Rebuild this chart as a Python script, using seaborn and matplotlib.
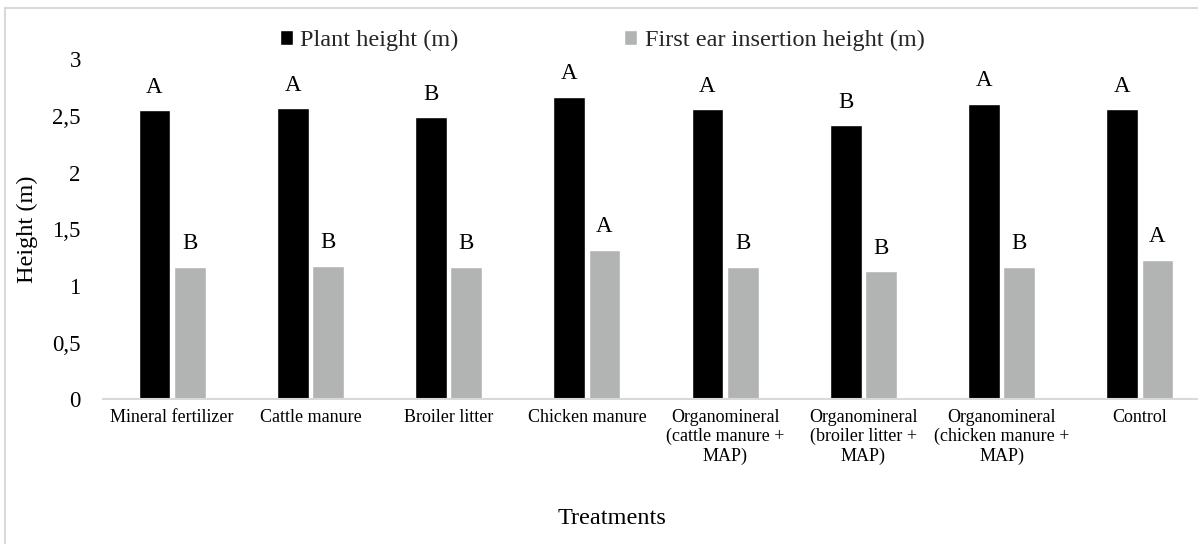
import matplotlib
matplotlib.use("Agg")
import matplotlib.pyplot as plt
import seaborn as sns
import pandas as pd
from matplotlib.patches import Rectangle
from matplotlib.ticker import FuncFormatter

categories = ["Mineral fertilizer", "Cattle manure", "Broiler litter", "Chicken manure",
              "Organomineral\n(cattle manure +\nMAP)", "Organomineral\n(broiler litter +\nMAP)",
              "Organomineral\n(chicken manure +\nMAP)", "Control"]
plant_height = [2.55, 2.57, 2.49, 2.67, 2.56, 2.42, 2.61, 2.56]
ear_height = [1.17, 1.18, 1.17, 1.32, 1.17, 1.13, 1.17, 1.23]
plant_letters = ["A", "A", "B", "A", "A", "B", "A", "A"]
ear_letters = ["B", "B", "B", "A", "B", "B", "B", "A"]
series = ["Plant height (m)", "First ear insertion height (m)"]

df = pd.DataFrame({
    "Treatment": categories * 2,
    "Series": [series[0]] * len(categories) + [series[1]] * len(categories),
    "Height": plant_height + ear_height,
})

sns.set_theme(style="white")
plt.rcParams["font.family"] = ["Liberation Serif", "DejaVu Serif"]

fig = plt.figure(figsize=(11.98, 5.44), dpi=100)
ax = fig.add_axes([103 / 1198, 144.7 / 544, 1106 / 1198, 340 / 544])

sns.barplot(data=df, x="Treatment", y="Height", hue="Series", order=categories,
            hue_order=series, palette=["#000000", "#B2B4B4"], width=0.51, gap=0.1,
            saturation=1, ax=ax, legend=True)

ax.set_ylim(0, 3)
ax.set_yticks([0, 0.5, 1, 1.5, 2, 2.5, 3])
ax.yaxis.set_major_formatter(FuncFormatter(lambda v, p: ("%g" % v).replace(".", ",")))
ax.tick_params(axis="y", length=0, pad=16, labelsize=16.5, labelcolor="#000000")
ax.tick_params(axis="x", length=0, pad=7, labelsize=13, labelcolor="#000000")
for lbl in ax.get_xticklabels():
    lbl.set_linespacing(1.15)
    lbl.set_horizontalalignment("center")
for s in ["top", "right", "left"]:
    ax.spines[s].set_visible(False)
ax.spines["bottom"].set_color("#D9D9D9")
ax.spines["bottom"].set_linewidth(1.5)
ax.set_xlabel("")
ax.set_ylabel("Height (m)", fontsize=17.5, labelpad=10, color="#000000")

for cont, letters in zip(ax.containers, [plant_letters, ear_letters]):
    for bar, letter in zip(cont, letters):
        ax.annotate(letter, (bar.get_x() + bar.get_width() / 2, bar.get_height()),
                    xytext=(0, 16.5), textcoords="offset points", ha="center", va="center",
                    fontsize=16.5, color="#000000")

leg = ax.legend(loc="upper left", bbox_to_anchor=(270 / 1198, 524 / 544),
                bbox_transform=fig.transFigure, ncol=2, frameon=False, fontsize=17.5,
                handlelength=0.55, handleheight=0.55, handletextpad=0.3, columnspacing=6.8,
                borderaxespad=0, borderpad=0.4)

fig.text(612 / 1198, 1 - 518 / 544, "Treatments", ha="center", va="center", fontsize=17.5,
         color="#000000")

fig.patches.append(Rectangle((5 / 1198, -0.1), 1.2, 1.1 - 8 / 544, transform=fig.transFigure,
                             fill=False, edgecolor="#D9D9D9", linewidth=1.5, figure=fig))

fig.savefig("out.png", dpi=100)
